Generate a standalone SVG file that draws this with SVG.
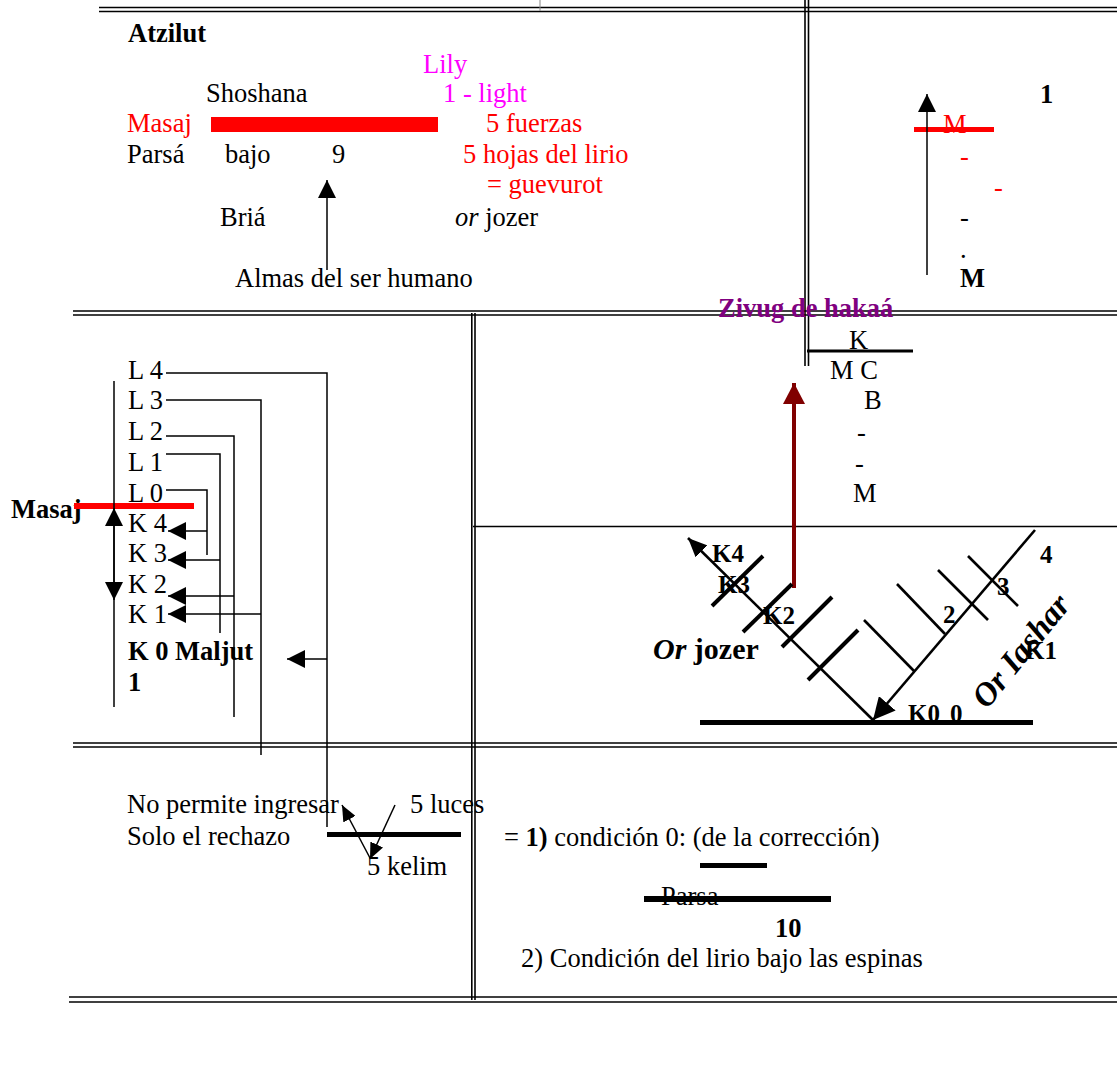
<svg xmlns="http://www.w3.org/2000/svg" width="1117" height="1085" viewBox="0 0 1117 1085">
<style>
text{font-family:"Liberation Serif","Times New Roman",serif;font-size:26.5px;fill:#000}
.b{font-weight:bold}
.i{font-style:italic}
.s25{font-size:25px}
.s30{font-size:30px}
.s33{font-size:33px}
.red{fill:#FF0000}
.mag{fill:#FF00FF}
.pur{fill:#800080}
.dbl{stroke:#000;stroke-width:1.6;fill:none}
.ln{stroke:#000;stroke-width:1.5;fill:none}
.thick{stroke:#000;stroke-width:4;fill:none}
.med{stroke:#000;stroke-width:2.6;fill:none}
</style>
<defs>
<marker id="ah" markerUnits="userSpaceOnUse" markerWidth="18" markerHeight="18" refX="16" refY="8" orient="auto" viewBox="0 0 16 16">
<path d="M0,0 L16,8 L0,16 z" fill="#000"/>
</marker>
<marker id="ahs" markerUnits="userSpaceOnUse" markerWidth="16" markerHeight="14" refX="15" refY="6.5" orient="auto" viewBox="0 0 15 13">
<path d="M0,0 L15,6.5 L0,13 z" fill="#000"/>
</marker>
<marker id="ahl" markerUnits="userSpaceOnUse" markerWidth="19" markerHeight="17" refX="18" refY="8" orient="auto" viewBox="0 0 18 16">
<path d="M0,0 L18,8 L0,16 z" fill="#000"/>
</marker>
<marker id="ahv" markerUnits="userSpaceOnUse" markerWidth="22" markerHeight="22" refX="20" refY="10" orient="auto" viewBox="0 0 20 20">
<path d="M0,0 L20,10 L0,20 z" fill="#000"/>
</marker>
<marker id="ahr" markerUnits="userSpaceOnUse" markerWidth="22" markerHeight="22" refX="20" refY="10.5" orient="auto" viewBox="0 0 20 21">
<path d="M0,0 L20,10.5 L0,21 z" fill="#800000"/>
</marker>
</defs>

<g id="frame">
<line class="dbl" x1="99" y1="7.5" x2="1117" y2="7.5"/>
<line class="dbl" x1="99" y1="11.5" x2="1117" y2="11.5"/>
<line x1="540" y1="0" x2="540" y2="11" stroke="#888" stroke-width="1"/>
<line class="dbl" x1="805" y1="0" x2="805" y2="366"/>
<line class="dbl" x1="808.5" y1="0" x2="808.5" y2="366"/>
<line class="dbl" x1="73" y1="311" x2="1117" y2="311"/>
<line class="dbl" x1="73" y1="315" x2="1117" y2="315"/>
<line class="dbl" x1="471.8" y1="313" x2="471.8" y2="1000"/>
<line class="dbl" x1="475" y1="313" x2="475" y2="1000"/>
<line class="ln" x1="473" y1="526.5" x2="1117" y2="526.5"/>
<line class="dbl" x1="73" y1="743" x2="1117" y2="743"/>
<line class="dbl" x1="73" y1="747" x2="1117" y2="747"/>
<line class="dbl" x1="69" y1="997" x2="1117" y2="997"/>
<line class="dbl" x1="69" y1="1002" x2="1117" y2="1002"/>
</g>

<g id="atzilut">
<text class="b" x="128" y="42">Atzilut</text>
<text class="mag" x="423" y="73">Lily</text>
<text x="206" y="102">Shoshana</text>
<text class="mag" x="443" y="102">1 - light</text>
<text class="red" x="127" y="132">Masaj</text>
<rect x="211" y="117" width="227" height="15" fill="#FF0000"/>
<text class="red" x="486" y="132">5 fuerzas</text>
<text x="127" y="163">Parsá</text>
<text x="225" y="163">bajo</text>
<text x="332" y="163">9</text>
<text class="red" x="463" y="163">5 hojas del lirio</text>
<text class="red" x="487" y="193">= guevurot</text>
<text x="220" y="226">Briá</text>
<text x="455" y="226"><tspan class="i">or</tspan> jozer</text>
<text x="235" y="287">Almas del ser humano</text>
</g>

<g id="top-right">
<text class="b" x="1040" y="103">1</text>
<rect x="914" y="127" width="80" height="5" fill="#FF0000"/>
<text class="red" x="943" y="133">M</text>
<text class="red" x="960" y="165">-</text>
<text class="red" x="994" y="196">-</text>
<text x="960" y="226">-</text>
<text x="960" y="258">.</text>
<text class="b" x="960" y="287">M</text>
</g>

<g id="zivug">
<text class="b pur" x="718" y="317">Zivug de hakaá</text>
<line x1="807" y1="351" x2="913" y2="351" stroke="#000" stroke-width="3"/>
<text x="849" y="349">K</text>
<text x="830" y="379">M C</text>
<text x="864" y="409">B</text>
<text x="857" y="441">-</text>
<text x="855" y="472">-</text>
<text x="853" y="502">M</text>
</g>

<g id="levels">
<text class="b" x="11" y="518">Masaj</text>
<rect x="74" y="503" width="120" height="6" fill="#FF0000"/>
<text x="128" y="379">L 4</text>
<text x="128" y="409">L 3</text>
<text x="128" y="440">L 2</text>
<text x="128" y="471">L 1</text>
<text x="128" y="502">L 0</text>
<text x="128" y="532">K 4</text>
<text x="128" y="562">K 3</text>
<text x="128" y="593">K 2</text>
<text x="128" y="623">K 1</text>
<text class="b" x="128" y="660">K 0 Maljut</text>
<text class="b" x="128" y="691">1</text>
</g>

<g id="or-diagram">
<rect x="700" y="720" width="333" height="5" fill="#000"/>
<text class="b s25" x="712" y="562">K4</text>
<text class="b s25" x="718" y="593">K3</text>
<text class="b s25" x="763" y="624">K2</text>
<text class="b s30" x="653" y="659"><tspan class="i">Or</tspan> jozer</text>
<text class="b s25" x="943" y="623">2</text>
<text class="b s25" x="997" y="595">3</text>
<text class="b s25" x="1040" y="563">4</text>
<text class="b s25" x="1025" y="659">K1</text>
<text class="b s25" x="908" y="722">K0<tspan x="950">0</tspan></text>
<text class="b i s33" x="987" y="710" transform="rotate(-51 987 710)">Or Iashar</text>
</g>

<g id="kelim">
<text x="127" y="813">No permite ingresar</text>
<text x="127" y="845">Solo el rechazo</text>
<rect x="327" y="832" width="134" height="5" fill="#000"/>
<text x="410" y="813">5 luces</text>
<text x="367" y="875">5 kelim</text>
</g>

<g id="conditions">
<text x="504" y="846">= <tspan class="b">1)</tspan> condición 0: (de la corrección)</text>
<rect x="700" y="863" width="67" height="5" fill="#000"/>
<text x="661" y="905">Parsa</text>
<rect x="644" y="896" width="187" height="6" fill="#000"/>
<text class="b" x="775" y="937">10</text>
<text x="521" y="967">2) Condición del lirio bajo las espinas</text>
</g>

<g id="connectors">
<line class="ln" x1="327" y1="270" x2="327" y2="180" marker-end="url(#ah)"/>
<line class="ln" x1="927" y1="275" x2="927" y2="94" marker-end="url(#ah)"/>
<line x1="794" y1="588" x2="794" y2="383" stroke="#800000" stroke-width="4" marker-end="url(#ahr)"/>
<line class="ln" x1="114" y1="381" x2="114" y2="707"/>
<line class="ln" x1="114" y1="555" x2="114" y2="508" marker-end="url(#ah)"/>
<line class="ln" x1="114" y1="555" x2="114" y2="600" marker-end="url(#ah)"/>
<polyline class="ln" points="166,373 327,373 327,827"/>
<polyline class="ln" points="166,400 261,400 261,755"/>
<polyline class="ln" points="166,436 234,436 234,717"/>
<polyline class="ln" points="166,454 220,454 220,633"/>
<polyline class="ln" points="166,490 207,490 207,555"/>
<line class="ln" x1="207" y1="531" x2="168" y2="531" marker-end="url(#ah)"/>
<line class="ln" x1="220" y1="560" x2="168" y2="560" marker-end="url(#ah)"/>
<line class="ln" x1="234" y1="596" x2="168" y2="596" marker-end="url(#ah)"/>
<line class="ln" x1="261" y1="614" x2="168" y2="614" marker-end="url(#ah)"/>
<line class="ln" x1="327" y1="659" x2="287" y2="659" marker-end="url(#ah)"/>
<line class="med" x1="873" y1="720" x2="688" y2="538" marker-end="url(#ahl)"/>
<line class="med" x1="1035" y1="530" x2="873" y2="720" marker-end="url(#ahv)"/>
<line class="thick" x1="712" y1="606" x2="763" y2="556"/>
<line class="thick" x1="743" y1="632" x2="792" y2="584"/>
<line class="thick" x1="782" y1="647" x2="832" y2="597"/>
<line class="thick" x1="808" y1="680" x2="858" y2="630"/>
<line class="med" x1="864" y1="620" x2="914" y2="671"/>
<line class="med" x1="897" y1="584" x2="945" y2="634"/>
<line class="med" x1="938" y1="570" x2="988" y2="620"/>
<line class="med" x1="968" y1="556" x2="1018" y2="606"/>
<line class="ln" x1="370" y1="858" x2="342" y2="805" marker-end="url(#ahs)"/>
<line class="ln" x1="395" y1="805" x2="370" y2="859" marker-end="url(#ahs)"/>
</g>
</svg>
